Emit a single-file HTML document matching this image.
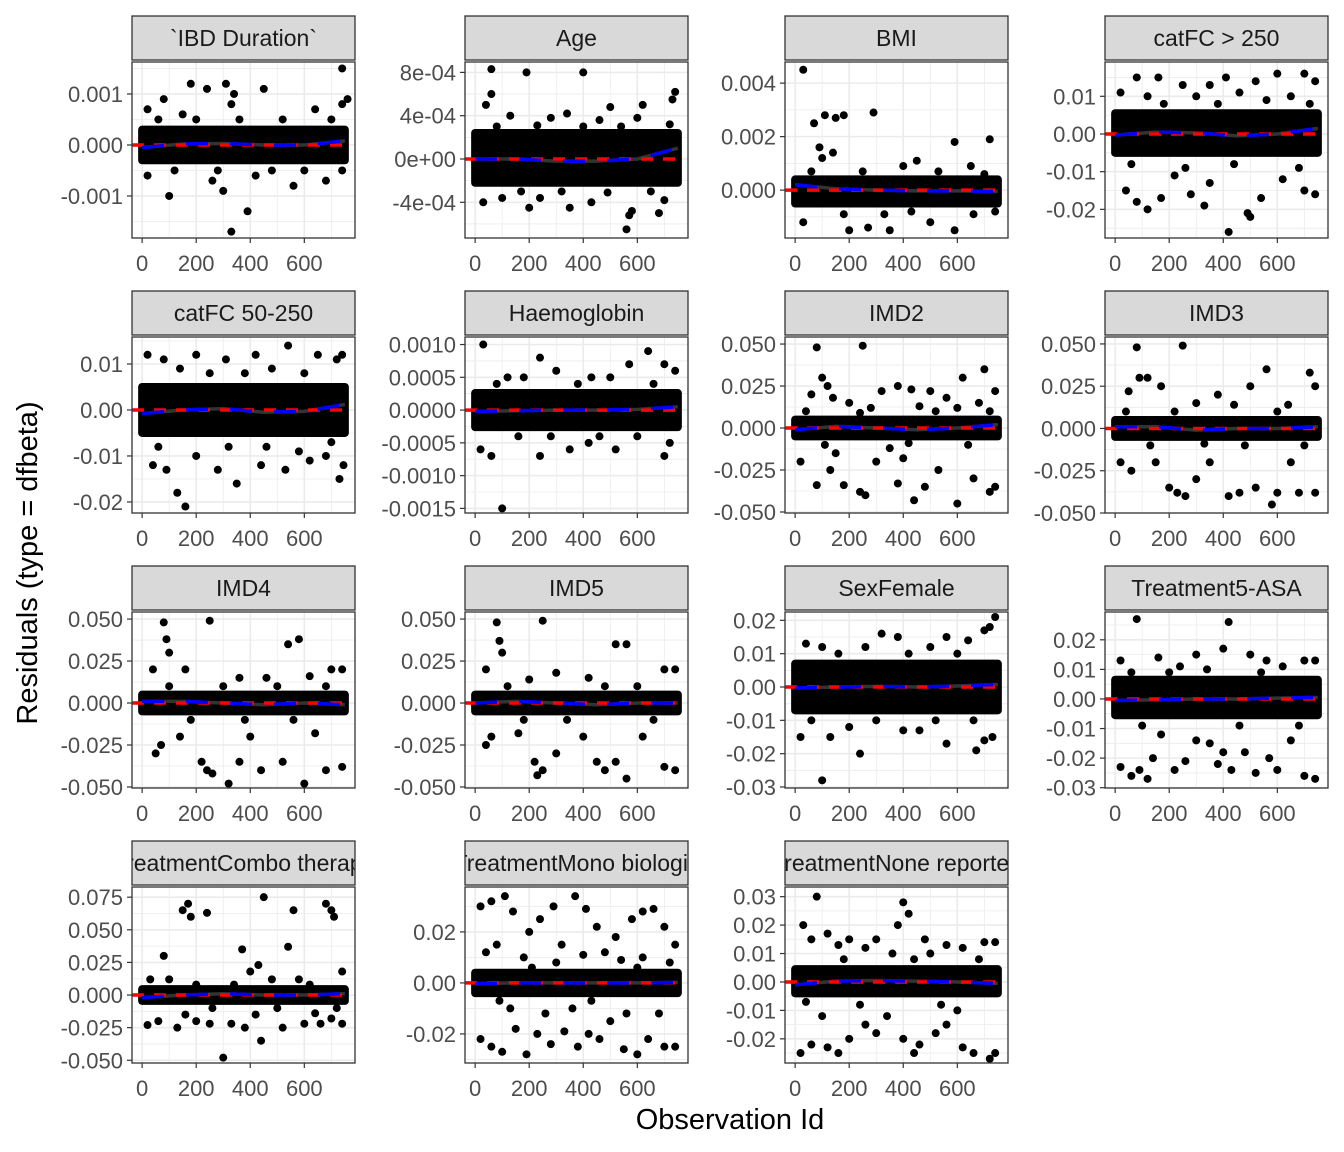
<!DOCTYPE html>
<html><head><meta charset="utf-8">
<style>
html,body{margin:0;padding:0;background:#fff;}
svg{display:block;font-family:"Liberation Sans",Arial,sans-serif;}
</style></head>
<body>
<svg id="chart" width="1344" height="1152" viewBox="0 0 1344 1152">
<text x="730" y="1129" font-size="29" text-anchor="middle" fill="#000">Observation Id</text>
<text transform="translate(37,563) rotate(-90)" font-size="29" text-anchor="middle" fill="#000">Residuals (type = dfbeta)</text>
</svg>
<script>
// ---- data ----
const panelTitles = ["`IBD Duration`","Age","BMI","catFC > 250","catFC 50-250","Haemoglobin","IMD2","IMD3","IMD4","IMD5","SexFemale","Treatment5-ASA","TreatmentCombo therapy","TreatmentMono biologic","TreatmentNone reported"];
const yDomains = [[-0.001824,0.001627],[-7.3e-4,8.96e-4],[-0.00179,0.00479],[-0.0276,0.0191],[-0.0224,0.01587],[-0.00157,0.001115],[-0.0506,0.0542],[-0.0500,0.0541],[-0.0506,0.0542],[-0.0506,0.0542],[-0.0303,0.0225],[-0.0301,0.0294],[-0.0521,0.0828],[-0.0314,0.0376],[-0.0285,0.0334]];
const yTicks = [[-0.001,0,0.001],[-4e-4,0,4e-4,8e-4],[0,0.002,0.004],[-0.02,-0.01,0,0.01],[-0.02,-0.01,0,0.01],[-0.0015,-0.001,-0.0005,0,0.0005,0.001],[-0.05,-0.025,0,0.025,0.05],[-0.05,-0.025,0,0.025,0.05],[-0.05,-0.025,0,0.025,0.05],[-0.05,-0.025,0,0.025,0.05],[-0.03,-0.02,-0.01,0,0.01,0.02],[-0.03,-0.02,-0.01,0,0.01,0.02],[-0.05,-0.025,0,0.025,0.05,0.075],[-0.02,0,0.02],[-0.02,-0.01,0,0.01,0.02,0.03]];
const yTickLabels = [["-0.001","0.000","0.001"],["-4e-04","0e+00","4e-04","8e-04"],["0.000","0.002","0.004"],["-0.02","-0.01","0.00","0.01"],["-0.02","-0.01","0.00","0.01"],["-0.0015","-0.0010","-0.0005","0.0000","0.0005","0.0010"],["-0.050","-0.025","0.000","0.025","0.050"],["-0.050","-0.025","0.000","0.025","0.050"],["-0.050","-0.025","0.000","0.025","0.050"],["-0.050","-0.025","0.000","0.025","0.050"],["-0.03","-0.02","-0.01","0.00","0.01","0.02"],["-0.03","-0.02","-0.01","0.00","0.01","0.02"],["-0.050","-0.025","0.000","0.025","0.050","0.075"],["-0.02","0.00","0.02"],["-0.02","-0.01","0.00","0.01","0.02","0.03"]];
const xTicks = [0,200,400,600];
const xTickLabels = ["0","200","400","600"];
const xDomain = [-37.5,787.5];
// dense core band [lower, upper] for each panel
const coreBands = [[-0.0003,0.0003],[-2.2e-4,2.4e-4],[-0.0005,0.0004],[-0.005,0.0055],[-0.005,0.005],[-0.00026,0.00026],[-0.005,0.005],[-0.005,0.005],[-0.005,0.005],[-0.005,0.005],[-0.007,0.007],[-0.0055,0.0065],[-0.0045,0.0045],[-0.004,0.004],[-0.004,0.0045]];
// outlier points [obs id, residual]
const outliers = [
[[80,.0009],[180,.0012],[240,.0011],[310,.0012],[330,.0008],[340,.0010],[450,.0011],[740,.0015],[760,.0009],[20,.0007],[100,-.0010],[330,-.0017],[390,-.0013],[300,-.0009],[260,-.0007],[560,-.0008],[640,.0007],[740,.0008],[20,-.0006],[680,-.0007],[150,.0006],[420,-.0006],[60,.0005],[120,-.0005],[200,.0005],[280,-.0005],[360,.0005],[480,-.0005],[520,.0005],[600,-.0005],[700,.0005],[740,-.0005]],
[[60,8.3e-4],[190,8e-4],[400,8e-4],[60,6e-4],[40,5e-4],[340,4.2e-4],[500,4.8e-4],[740,6.2e-4],[730,5.5e-4],[620,5e-4],[200,-4.5e-4],[350,-4.5e-4],[580,-4.8e-4],[570,-5.2e-4],[560,-6.5e-4],[680,-5e-4],[30,-4e-4],[100,-3.6e-4],[430,-4e-4],[130,4e-4],[280,3.8e-4],[460,3.6e-4],[700,-3.8e-4],[240,-3.6e-4],[600,3.8e-4],[80,3e-4],[170,-3e-4],[230,3.1e-4],[320,-3e-4],[400,3e-4],[490,-3.1e-4],[540,3e-4],[650,-3e-4],[720,3.2e-4]],
[[30,.0045],[70,.0025],[90,.0016],[110,.0028],[150,.0027],[180,.0028],[290,.0029],[140,.0014],[100,.0012],[590,.0018],[720,.0019],[450,.0011],[30,-.0012],[200,-.0015],[350,-.0015],[590,-.0015],[740,-.0008],[270,-.0014],[500,-.0012],[400,.0009],[650,.0009],[60,.0007],[180,-.0009],[250,.0007],[330,-.0009],[430,-.0008],[530,.0007],[660,-.0009],[700,.0006]],
[[20,.011],[80,.015],[160,.015],[250,.013],[350,.013],[410,.015],[520,.014],[600,.016],[700,.016],[740,.014],[40,-.015],[80,-.018],[170,-.017],[330,-.019],[420,-.026],[490,-.021],[500,-.022],[540,-.017],[700,-.015],[740,-.016],[120,-.020],[280,-.016],[620,-.012],[350,-.013],[220,-.011],[650,.010],[120,.010],[460,.011],[300,.010],[60,-.008],[180,.008],[260,-.009],[380,.008],[440,-.008],[560,.009],[680,-.009],[720,.008]],
[[20,.012],[80,.011],[200,.012],[310,.011],[420,.012],[540,.014],[650,.012],[720,.011],[740,.012],[40,-.012],[90,-.013],[130,-.018],[160,-.021],[280,-.013],[350,-.016],[440,-.012],[530,-.013],[620,-.011],[730,-.015],[745,-.012],[200,-.010],[580,-.009],[680,-.010],[140,.009],[480,.009],[60,-.008],[250,.008],[320,-.008],[380,.008],[460,-.008],[600,.008],[700,-.007]],
[[30,.0010],[120,.0005],[240,.0008],[300,.0006],[430,.0005],[570,.0007],[640,.0009],[700,.0007],[740,.0006],[20,-.0006],[60,-.0007],[100,-.0015],[240,-.0007],[350,-.0006],[520,-.0006],[700,-.0007],[720,-.0005],[420,-.0005],[180,.0005],[500,.0005],[80,.0004],[160,-.0004],[280,-.0004],[380,.0004],[460,-.0004],[600,-.0004],[660,.0004]],
[[80,.048],[250,.049],[100,.03],[120,.025],[60,.02],[140,.018],[320,.022],[380,.025],[430,.023],[500,.022],[620,.03],[700,.035],[740,.022],[680,.015],[20,-.02],[80,-.034],[130,-.025],[180,-.034],[240,-.038],[260,-.04],[300,-.02],[380,-.033],[440,-.043],[480,-.035],[530,-.025],[600,-.045],[660,-.03],[720,-.038],[740,-.035],[400,-.018],[200,.015],[560,.018],[350,-.012],[150,-.015],[280,.012],[460,.013],[600,.012],[40,.01],[110,-.01],[240,.009],[420,-.009],[520,.01],[640,-.01],[720,.01]],
[[80,.048],[250,.049],[90,.03],[120,.03],[50,.022],[170,.025],[300,.015],[380,.02],[500,.025],[560,.035],[720,.033],[740,.025],[20,-.02],[60,-.025],[200,-.035],[230,-.038],[260,-.04],[300,-.03],[420,-.04],[460,-.038],[520,-.035],[580,-.045],[600,-.038],[680,-.038],[740,-.038],[150,-.02],[350,-.02],[650,-.02],[440,.014],[640,.014],[40,.01],[130,-.01],[220,.01],[330,-.009],[480,-.01],[600,.01],[700,-.01]],
[[80,.048],[250,.049],[90,.038],[100,.03],[40,.02],[160,.02],[360,.015],[540,.035],[580,.038],[700,.02],[740,.02],[50,-.03],[70,-.025],[220,-.035],[240,-.04],[260,-.042],[320,-.048],[360,-.035],[440,-.04],[520,-.035],[600,-.048],[680,-.04],[740,-.038],[140,-.02],[400,-.02],[640,-.018],[460,.015],[620,.016],[100,.01],[180,-.01],[300,.01],[380,-.01],[500,.01],[560,-.01],[680,.01]],
[[80,.048],[250,.049],[90,.037],[100,.03],[40,.02],[300,.018],[520,.035],[560,.035],[700,.02],[740,.02],[40,-.025],[60,-.02],[220,-.035],[230,-.043],[250,-.04],[300,-.03],[450,-.035],[480,-.04],[520,-.035],[560,-.045],[700,-.038],[740,-.04],[160,-.018],[400,-.02],[620,-.02],[420,.015],[200,.014],[120,.01],[180,-.01],[340,-.01],[480,.01],[600,.01],[660,-.01]],
[[40,.013],[100,.012],[320,.016],[380,.015],[560,.015],[640,.014],[700,.017],[740,.021],[720,.018],[20,-.015],[100,-.028],[240,-.02],[130,-.015],[400,-.013],[560,-.017],[670,-.019],[700,-.016],[730,-.015],[200,-.012],[460,-.013],[260,.012],[500,.012],[60,-.01],[160,.01],[300,-.01],[420,.01],[520,-.01],[600,.01],[660,-.01]],
[[80,.027],[420,.026],[20,.013],[160,.014],[300,.015],[400,.017],[500,.015],[560,.013],[700,.013],[740,.013],[20,-.023],[60,-.026],[90,-.024],[120,-.027],[140,-.020],[220,-.024],[260,-.021],[350,-.015],[380,-.022],[400,-.018],[430,-.024],[480,-.018],[520,-.025],[570,-.020],[600,-.024],[700,-.026],[740,-.027],[170,-.012],[300,-.014],[650,-.014],[240,.011],[620,.011],[60,.009],[100,-.009],[200,.009],[340,.01],[460,-.009],[540,.009],[680,-.009]],
[[80,.03],[150,.065],[170,.07],[180,.06],[240,.063],[370,.035],[430,.023],[450,.075],[540,.037],[560,.065],[680,.07],[700,.065],[710,.06],[740,.018],[300,-.048],[20,-.023],[60,-.02],[130,-.025],[200,-.02],[250,-.022],[330,-.022],[380,-.025],[440,-.035],[520,-.025],[600,-.022],[660,-.022],[700,-.018],[740,-.022],[100,.012],[400,.018],[480,.012],[580,.012],[30,.012],[160,-.015],[420,-.015],[640,-.014],[200,.008],[260,-.01],[340,.008],[500,-.01],[620,.008],[720,-.01]],
[[20,.03],[60,.032],[110,.034],[140,.028],[200,.02],[240,.025],[290,.03],[370,.034],[410,.029],[450,.022],[520,.018],[580,.025],[620,.028],[660,.029],[700,.022],[740,.015],[80,.015],[320,.015],[480,.012],[20,-.022],[60,-.025],[100,-.027],[150,-.018],[190,-.028],[230,-.02],[280,-.024],[330,-.019],[380,-.025],[420,-.02],[460,-.022],[500,-.015],[550,-.026],[600,-.028],[640,-.022],[700,-.025],[740,-.025],[130,-.01],[260,-.012],[360,-.01],[560,-.012],[680,-.012],[40,.012],[180,.01],[400,.011],[620,.01],[720,.008],[300,.008],[540,.009],[90,-.007],[210,.006],[430,-.007],[600,.006]],
[[80,.03],[30,.02],[60,.015],[120,.017],[160,.013],[200,.015],[260,.012],[300,.015],[380,.02],[400,.028],[420,.024],[480,.015],[560,.013],[620,.012],[700,.014],[740,.014],[20,-.025],[60,-.022],[120,-.023],[160,-.025],[200,-.02],[260,-.015],[300,-.018],[400,-.02],[440,-.025],[460,-.022],[520,-.018],[560,-.015],[620,-.023],[660,-.025],[720,-.027],[740,-.025],[100,-.012],[340,-.012],[600,-.01],[360,.01],[500,.01],[40,-.007],[180,.008],[240,-.008],[440,.008],[540,-.008],[680,.008]]
];
// loess smooth values at smoothX
const smoothX = [0,150,300,450,600,750];
const smoothY = [
[-0.00005,0.00002,0.00003,0,0,0.00008],[0,0,-0.00002,-0.00002,0,0.0001],[0.0002,0.00005,0,-0.00003,-0.00003,-0.00005],[-0.0003,0.0005,0.0003,-0.0005,0,0.0015],[-0.0008,0,0.0003,-0.0005,-0.0003,0.0012],[-0.00002,-0.00001,0,0,0.00001,0.00005],[-0.001,0.001,0,-0.001,0,0.002],[0.001,0.001,-0.001,0,0,0.001],[0.001,0.001,0,-0.001,0,-0.001],[0,0.001,0,-0.001,0,0],[-0.0003,0,0.0002,0,0.0003,0.0008],[-0.0005,-0.0003,0,0,0.0003,0.0005],[-0.002,0,0.001,0,0,0.001],[-0.0003,0,0,0,0,0.0002],[-0.001,0.0003,0.0005,0.0003,0,-0.0005]
];
// ---- layout ----
const NS="http://www.w3.org/2000/svg";
const svg=document.getElementById('chart');
const colX=[[132,355],[465,688],[785,1008],[1105,1328]];
const rowY=[[16,62,238],[291,337,513],[566,612,788],[841,887,1063]];
function mk(tag,attrs,parent){const e=document.createElementNS(NS,tag);for(const k in attrs)e.setAttribute(k,attrs[k]);(parent||svg).appendChild(e);return e;}
const defs=mk('defs',{});
panelTitles.forEach((title,i)=>{
  const c=i%4,r=Math.floor(i/4);
  const [x0,x1]=colX[c];const [sy,y0,y1]=rowY[r];
  const [d0,d1]=yDomains[i];
  const X=v=>x0+(v-xDomain[0])/(xDomain[1]-xDomain[0])*(x1-x0);
  const Y=v=>y1-(v-d0)/(d1-d0)*(y1-y0);
  const g=mk('g',{});
  
  
  const cp=mk('clipPath',{id:'cp'+i},defs);mk('rect',{x:x0,y:y0,width:x1-x0,height:y1-y0},cp);
  const cs=mk('clipPath',{id:'cs'+i},defs);mk('rect',{x:x0,y:sy,width:x1-x0,height:y0-sy-2},cs);
  const strip=mk('rect',{x:x0,y:sy,width:x1-x0,height:y0-sy-2,fill:'#d9d9d9',stroke:'#333','stroke-width':1.3},g);
  
  
  const st=mk('text',{x:(x0+x1)/2,y:sy+30,'font-size':23,'text-anchor':'middle',fill:'#1a1a1a','clip-path':'url(#cs'+i+')'},g);
  st.textContent=title;
  
  
  const gg=mk('g',{'clip-path':'url(#cp'+i+')'},g);
  [100,300,500,700].forEach(v=>mk('line',{x1:X(v),x2:X(v),y1:y0,y2:y1,stroke:'#ebebeb','stroke-width':0.8},gg));
  const yt=yTicks[i];const step=yt[1]-yt[0];
  for(let k=-1;k<yt.length;k++){const v=yt[0]+step*(k+0.5);mk('line',{x1:x0,x2:x1,y1:Y(v),y2:Y(v),stroke:'#ebebeb','stroke-width':0.8},gg);}
  xTicks.forEach(v=>mk('line',{x1:X(v),x2:X(v),y1:y0,y2:y1,stroke:'#ebebeb','stroke-width':1.6},gg));
  yt.forEach(v=>mk('line',{x1:x0,x2:x1,y1:Y(v),y2:Y(v),stroke:'#ebebeb','stroke-width':1.6},gg));
  const [b0,b1]=coreBands[i];
  const band=mk('rect',{x:X(0)-4,y:Y(b1)-4,width:X(750)-X(0)+8,height:Y(b0)-Y(b1)+8,rx:4,fill:'#000'},gg);
  
  
  outliers[i].forEach(p=>{
    const pt=mk('circle',{cx:X(p[0]),cy:Y(p[1]),r:4,fill:'#000'},gg);
    
    
  });
  const sp=smoothX.map((v,k)=>X(v)+','+Y(smoothY[i][k])).join(' ');
  mk('polyline',{points:sp,fill:'none',stroke:'#333','stroke-width':3.5},gg);
  const rl=mk('line',{x1:x0,x2:X(750),y1:Y(0),y2:Y(0),stroke:'#ff0000','stroke-width':3.5,'stroke-dasharray':'12 10'},gg);
  
  
  const bl=mk('polyline',{points:sp,fill:'none',stroke:'#0000ff','stroke-width':3.5,'stroke-dasharray':'22 22'},gg);
  
  
  mk('rect',{x:x0,y:y0,width:x1-x0,height:y1-y0,fill:'none',stroke:'#333','stroke-width':1.3},g);
  xTicks.forEach((v,k)=>{
    mk('line',{x1:X(v),x2:X(v),y1:y1,y2:y1+5,stroke:'#333','stroke-width':1.2},g);
    const t=mk('text',{x:X(v),y:y1+33,'font-size':22,'text-anchor':'middle',fill:'#4d4d4d'},g);
    t.textContent=xTickLabels[k];
    
    
  });
  yt.forEach((v,k)=>{
    mk('line',{x1:x0-5,x2:x0,y1:Y(v),y2:Y(v),stroke:'#333','stroke-width':1.2},g);
    const t=mk('text',{x:x0-9,y:Y(v)+8,'font-size':22,'text-anchor':'end',fill:'#4d4d4d'},g);
    t.textContent=yTickLabels[i][k];
    
    
  });
});
</script>
</body></html>
